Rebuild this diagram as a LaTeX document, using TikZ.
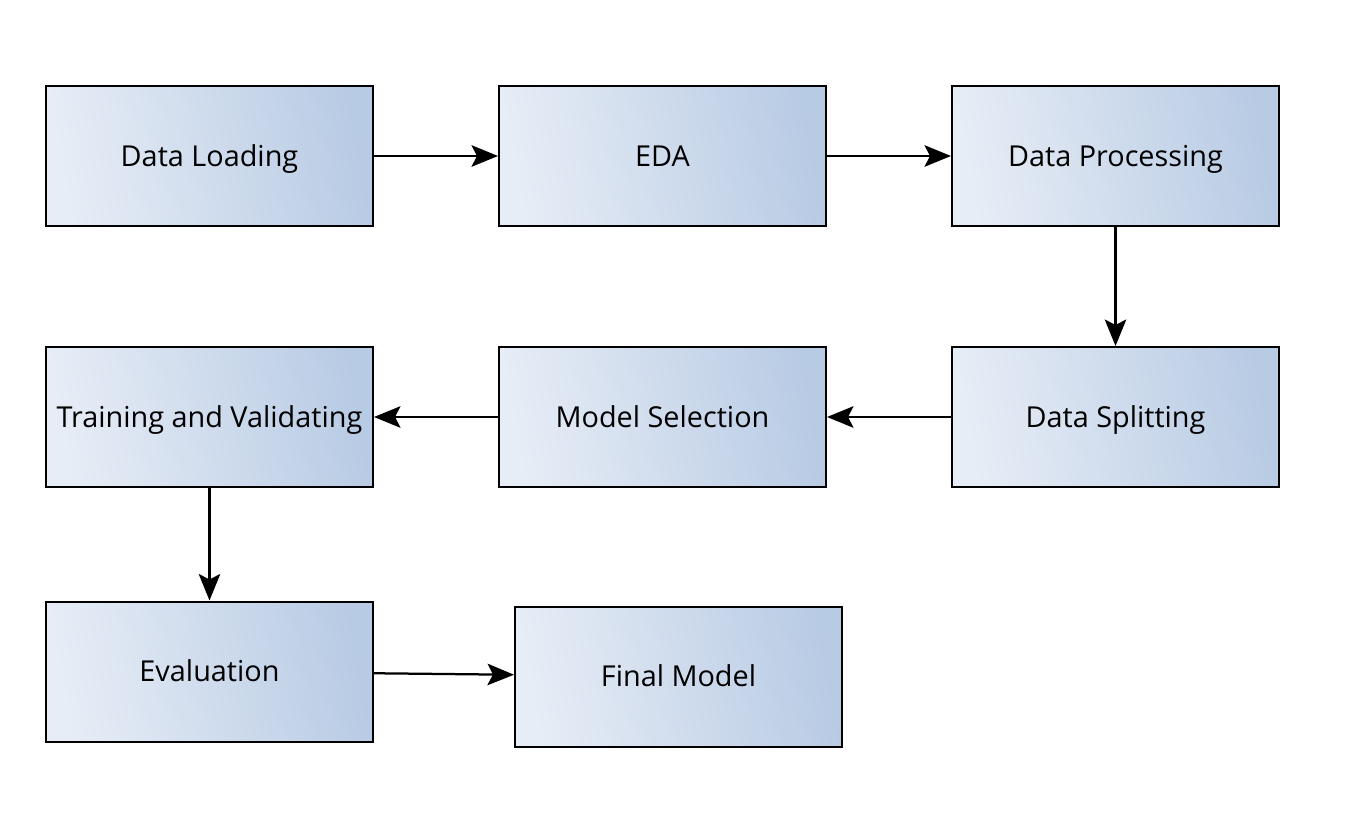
\documentclass[tikz,border=0pt]{standalone}
\usepackage{fontspec}
\setmainfont{Open Sans}
\definecolor{boxlight}{RGB}{231,237,246}
\definecolor{boxdark}{RGB}{184,203,228}
\usetikzlibrary{positioning, arrows.meta}
\tikzset{
>={Stealth[length=0.53cm, width=0.43cm, inset=0.11cm]}, % big filled arrow heads
node distance=2.48cm, % horizontal gap between two boxes
flowarrow/.style={->, line width=0.045cm}, % sets the properties for each connector
stagebox/.style={rectangle, draw=black, line width=0.04cm, minimum width=6.54cm, minimum height=2.8cm, inner sep=0pt, text height=0.41cm, text depth=0cm, left color=boxlight, right color=boxdark, shading angle=100, font=\fontsize{16.4}{19}\selectfont}, % sets the properties for each stage
}
\begin{document}
\begin{tikzpicture}
      \useasboundingbox (0,0) rectangle (27,-16.64);
      \node[stagebox] (load) at (4.19,-3.12) {Data Loading};
      \node[stagebox, right=of load] (eda) {EDA};
      \node[stagebox, right=of eda] (proc) {Data Processing};
      \node[stagebox, below=2.38cm of proc] (split) {Data Splitting};
      \node[stagebox, left=of split] (select) {Model Selection};
      \node[stagebox, left=of select] (train) {Training and Validating};
      \node[stagebox, below=2.25cm of train] (eval) {Evaluation};
      \node[stagebox, right=2.8cm of eval, yshift=-0.1cm] (final) {Final Model};

      \draw[flowarrow] (load) edge node{} (eda)
      (eda) edge node{} (proc)
      (proc) edge node{} (split)
      (split) edge node{} (select)
      (select) edge node{} (train)
      (train) edge node{} (eval)
      (eval) edge node{} (final);
    \end{tikzpicture}
\end{document}
